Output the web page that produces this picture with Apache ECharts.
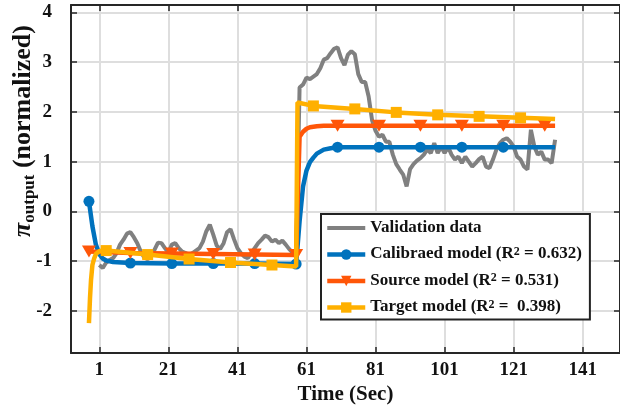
<!DOCTYPE html>
<html>
<head>
<meta charset="utf-8">
<title>pi output validation</title>
<script src="https://cdn.jsdelivr.net/npm/echarts@6/dist/echarts.min.js"></script>
</head>
<body style="margin:0">
<div id="main" style="width:620px;height:416px;"></div>
<script type="text/javascript">
// axis ticks
var xTicks = [1, 21, 41, 61, 81, 101, 121, 141];
var yTicks = [-2, -1, 0, 1, 2, 3, 4];

var seriesNames = ['Validation data', 'Calibraed model', 'Source model', 'Target model'];
var r2Text = ['', '0.632', '0.531', ' 0.398'];
var colors = ['#808080', '#0072bd', '#ff5608', '#ffb000'];

// validation data, one value per second starting at t = 1
var valStart = 1;
var valData = [
  -1.08, -1.14, -1.03, -0.98, -0.94, -0.84, -0.67, -0.57, -0.45, -0.42,
  -0.52, -0.64, -0.81, -0.93, -0.96, -0.91, -0.77, -0.63, -0.64, -0.74,
  -0.83, -0.67, -0.64, -0.74, -0.81, -0.84, -0.88, -0.84, -0.79, -0.74,
  -0.61, -0.40, -0.27, -0.47, -0.69, -0.76, -0.64, -0.42, -0.36, -0.56,
  -0.74, -0.84, -0.91, -0.94, -0.84, -0.74, -0.64, -0.57, -0.49, -0.52,
  -0.61, -0.57, -0.64, -0.59, -0.67, -0.76, -0.83, -0.91, 2.49, 2.55,
  2.69, 2.66, 2.71, 2.76, 2.88, 3.05, 3.08, 3.18, 3.27, 3.30,
  3.08, 2.94, 3.15, 3.22, 3.16, 2.76, 2.60, 2.60, 2.31, 1.83,
  1.62, 1.50, 1.54, 1.40, 1.40, 1.14, 0.95, 0.84, 0.74, 0.50,
  0.85, 0.95, 1.02, 1.07, 1.14, 1.25, 1.17, 1.37, 1.17, 1.30,
  1.17, 1.30, 1.14, 1.04, 1.10, 0.97, 1.10, 1.00, 0.90, 0.97,
  1.05, 1.10, 0.90, 0.87, 1.04, 1.24, 1.37, 1.44, 1.47, 1.40,
  1.30, 1.10, 1.04, 0.90, 0.84, 1.64, 1.30, 1.14, 1.20, 1.04,
  1.04, 0.97, 1.44
];

// calibrated model
var calT = [-2, -1, 0, 1, 2, 3, 5, 10, 22, 34, 46, 58, 59, 60, 61, 62, 63, 64, 66, 68, 70, 82, 94, 106, 118, 133];
var calV = [0.20, -0.30, -0.67, -0.86, -0.95, -0.99, -1.02, -1.04, -1.05, -1.05, -1.05, -1.06, -0.20, 0.50, 0.82, 0.99, 1.08, 1.16, 1.24, 1.27, 1.29, 1.29, 1.29, 1.29, 1.29, 1.29];
var calMarks = [-2, 10, 22, 34, 46, 58, 70, 82, 94, 106, 118];

// source model
var srcT = [-2, 10, 22, 34, 46, 58, 59, 60, 61, 62, 64, 66, 70, 82, 94, 106, 118, 130, 133];
var srcV = [-0.81, -0.84, -0.85, -0.86, -0.87, -0.88, 1.50, 1.60, 1.66, 1.69, 1.71, 1.72, 1.72, 1.72, 1.72, 1.72, 1.72, 1.72, 1.72];
var srcMarks = [-2, 10, 22, 34, 46, 58, 70, 82, 94, 106, 118, 130];

// target model
var tgtT = [-2, -1.7, -1.4, -1, -0.5, 0, 1, 3, 15, 27, 39, 51, 58, 58.4, 63, 75, 87, 99, 111, 123, 133];
var tgtV = [-2.25, -1.75, -1.38, -1.08, -0.95, -0.86, -0.80, -0.79, -0.87, -0.96, -1.03, -1.08, -1.11, 2.19, 2.12, 2.06, 1.99, 1.94, 1.91, 1.88, 1.855];
var tgtMarks = [3, 15, 27, 39, 51, 63, 75, 87, 99, 111, 123];

var dom = document.getElementById('main');
var myChart = echarts.init(dom);

var font = 'Liberation Serif';
var dark = '#262626';

function buildLine(ts, vs, marks) {
  return ts.map(function (t, i) {
    if (marks.indexOf(t) >= 0) return { value: [t, vs[i]] };
    return { value: [t, vs[i]], symbol: 'none' };
  });
}

var valLine = valData.map(function (v, i) { return [valStart + i, v]; });

function mainAxis(extra) {
  var base = {
    type: 'value',
    axisLine: { show: true, onZero: false, lineStyle: { color: dark, width: 2 } },
    axisTick: { show: true, inside: true, length: 6, lineStyle: { color: dark, width: 1.5 } },
    axisLabel: { color: '#111', fontFamily: font, fontWeight: 'bold', fontSize: 19 },
    splitLine: { show: true, lineStyle: { color: '#dedede', width: 2 } }
  };
  return echarts.util.merge(base, extra, true);
}

var option = {
  animation: false,
  grid: { left: 71, right: 0, top: 5, bottom: 63, outerBoundsMode: 'none', containLabel: false },
  xAxis: [
    mainAxis({
      min: -7.2, max: 151.8, position: 'bottom',
      axisTick: { customValues: xTicks },
      axisLabel: { customValues: xTicks, margin: 8 },
      name: 'Time (Sec)', nameLocation: 'middle', nameGap: 31, nameMoveOverlap: false,
      nameTextStyle: { color: '#111', fontFamily: font, fontWeight: 'bold', fontSize: 21 }
    }),
    mainAxis({
      min: -7.2, max: 151.8, position: 'top',
      axisTick: { customValues: xTicks },
      axisLabel: { show: false },
      splitLine: { show: false }
    })
  ],
  yAxis: [
    mainAxis({
      min: -2.85, max: 4.15, position: 'left',
      axisTick: { customValues: yTicks },
      axisLabel: { customValues: yTicks, margin: 19 },
      name: '{pi|π}{sub|output} {m|(normalized)}',
      nameLocation: 'middle', nameRotate: 90, nameGap: 33, nameMoveOverlap: false,
      nameTextStyle: {
        color: '#111', fontFamily: font, fontWeight: 'bold', fontSize: 26,
        padding: [0, 0, 0, 96],
        rich: {
          pi: { fontFamily: font, fontStyle: 'italic', fontSize: 26, lineHeight: 28, verticalAlign: 'top', color: '#111' },
          sub: { fontFamily: font, fontWeight: 'bold', fontSize: 17, lineHeight: 28, verticalAlign: 'top', padding: [11, 0, 0, 0], color: '#111' },
          m: { fontFamily: font, fontWeight: 'bold', fontSize: 26, lineHeight: 28, verticalAlign: 'top', color: '#111' }
        }
      }
    }),
    mainAxis({
      min: -2.85, max: 4.15, position: 'right',
      axisTick: { customValues: yTicks },
      axisLabel: { show: false },
      splitLine: { show: false }
    })
  ],
  legend: {
    orient: 'vertical',
    left: 321, top: 214,
    padding: [5, 8, 4, 4],
    itemGap: 9.5,
    itemWidth: 38, itemHeight: 13,
    backgroundColor: '#fff',
    borderColor: '#222', borderWidth: 2,
    lineStyle: { width: 'inherit' },
    data: [
      { name: seriesNames[0], itemStyle: { opacity: 0 } },
      seriesNames[1], seriesNames[2], seriesNames[3]
    ],
    formatter: function (name) {
      var i = seriesNames.indexOf(name);
      if (!r2Text[i]) return '{b|' + name + '}';
      return '{b|' + name + ' (R}{s|2}{b| = ' + r2Text[i] + ')}';
    },
    textStyle: {
      color: '#111', fontFamily: font, fontWeight: 'bold', fontSize: 17,
      rich: {
        b: { color: '#111', fontFamily: font, fontWeight: 'bold', fontSize: 17, lineHeight: 18, verticalAlign: 'top' },
        s: { color: '#111', fontFamily: font, fontWeight: 'bold', fontSize: 12, lineHeight: 11, verticalAlign: 'top' }
      }
    }
  },
  series: [
    {
      name: seriesNames[0], type: 'line', data: valLine,
      symbol: 'none', lineStyle: { color: colors[0], width: 4 }, itemStyle: { color: colors[0] },
      emphasis: { disabled: true }, z: 2
    },
    {
      name: seriesNames[1], type: 'line', data: buildLine(calT, calV, calMarks),
      symbol: 'circle', symbolSize: 11, showSymbol: true,
      lineStyle: { color: colors[1], width: 4.5 }, itemStyle: { color: colors[1] },
      emphasis: { disabled: true }, z: 3
    },
    {
      name: seriesNames[2], type: 'line', data: buildLine(srcT, srcV, srcMarks),
      symbol: 'path://M0,0 L12,0 L6,10 Z', symbolSize: [14, 12], showSymbol: true,
      lineStyle: { color: colors[2], width: 4.5 }, itemStyle: { color: colors[2] },
      emphasis: { disabled: true }, z: 4
    },
    {
      name: seriesNames[3], type: 'line', data: buildLine(tgtT, tgtV, tgtMarks),
      symbol: 'rect', symbolSize: 11, showSymbol: true,
      lineStyle: { color: colors[3], width: 4.5 }, itemStyle: { color: colors[3] },
      emphasis: { disabled: true }, z: 5
    }
  ]
};

myChart.setOption(option);
</script>
</body>
</html>
